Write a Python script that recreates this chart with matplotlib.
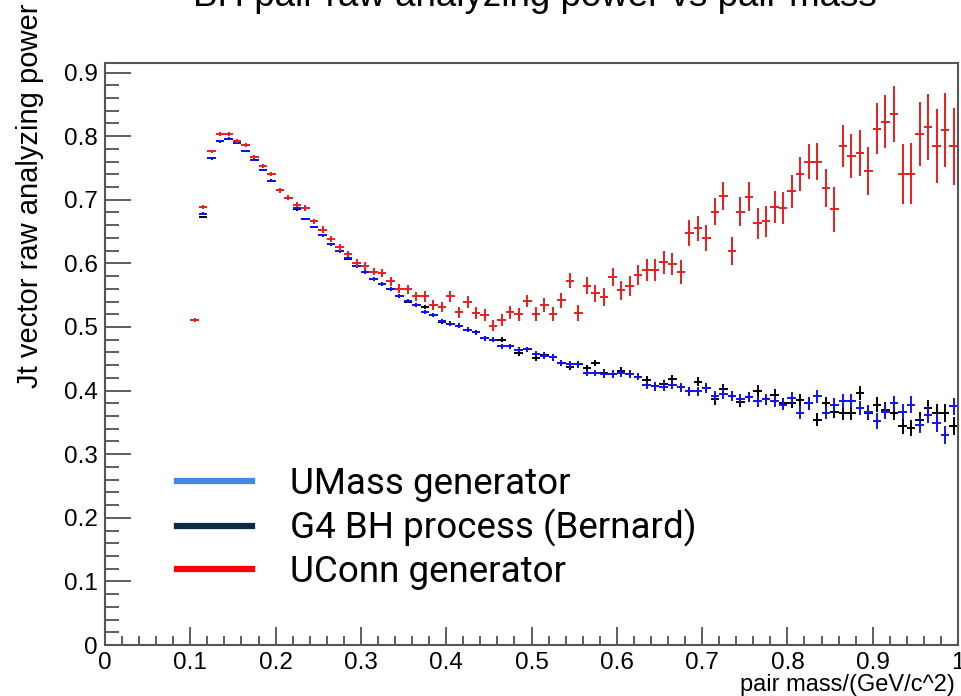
import numpy as np
import matplotlib
matplotlib.use("Agg")
import matplotlib.pyplot as plt
from matplotlib.lines import Line2D
from matplotlib.ticker import MultipleLocator, FuncFormatter

# bin centres of the pair mass histogram (0.01 GeV bins)
mass = [0.105 + 0.01 * i for i in range(90)]

# UConn generator (red)
uconn = [0.511, 0.689, 0.776, 0.804, 0.804, 0.793, 0.786, 0.767, 0.753, 0.741,
         0.715, 0.703, 0.692, 0.687, 0.666, 0.653, 0.638, 0.625, 0.615, 0.601,
         0.596, 0.587, 0.585, 0.572, 0.560, 0.559, 0.548, 0.548, 0.535, 0.531,
         0.548, 0.523, 0.539, 0.522, 0.519, 0.502, 0.511, 0.523, 0.520, 0.541,
         0.521, 0.535, 0.521, 0.542, 0.573, 0.522, 0.565, 0.553, 0.547, 0.579,
         0.558, 0.564, 0.582, 0.590, 0.590, 0.602, 0.599, 0.587, 0.648, 0.655,
         0.640, 0.681, 0.706, 0.619, 0.681, 0.705, 0.663, 0.666, 0.689, 0.687,
         0.713, 0.740, 0.760, 0.760, 0.719, 0.685, 0.784, 0.769, 0.774, 0.745,
         0.812, 0.823, 0.835, 0.741, 0.741, 0.803, 0.814, 0.784, 0.810, 0.784]
uconn_err = [0.003, 0.003, 0.003, 0.003, 0.003, 0.003, 0.003, 0.003, 0.003, 0.003,
             0.004, 0.004, 0.004, 0.004, 0.004, 0.005, 0.005, 0.005, 0.005, 0.006,
             0.006, 0.006, 0.006, 0.007, 0.007, 0.007, 0.007, 0.008, 0.008, 0.008,
             0.008, 0.009, 0.009, 0.009, 0.009, 0.009, 0.009, 0.010, 0.010, 0.010,
             0.011, 0.011, 0.011, 0.012, 0.012, 0.012, 0.013, 0.013, 0.014, 0.014,
             0.015, 0.016, 0.016, 0.017, 0.017, 0.018, 0.018, 0.019, 0.020, 0.020,
             0.021, 0.021, 0.022, 0.022, 0.023, 0.023, 0.024, 0.024, 0.025, 0.025,
             0.026, 0.027, 0.028, 0.029, 0.030, 0.035, 0.033, 0.035, 0.036, 0.038,
             0.040, 0.042, 0.044, 0.047, 0.048, 0.050, 0.052, 0.058, 0.058, 0.061]

# UMass generator (blue)
umass = [0.511, 0.678, 0.765, 0.792, 0.796, 0.789, 0.777, 0.763, 0.747, 0.730,
         0.715, 0.703, 0.687, 0.670, 0.657, 0.644, 0.630, 0.619, 0.609, 0.596,
         0.587, 0.575, 0.568, 0.560, 0.549, 0.541, 0.535, 0.524, 0.519, 0.510,
         0.505, 0.502, 0.496, 0.492, 0.482, 0.480, 0.470, 0.470, 0.464, 0.465,
         0.458, 0.455, 0.452, 0.443, 0.441, 0.441, 0.428, 0.428, 0.426, 0.426,
         0.427, 0.426, 0.422, 0.409, 0.407, 0.406, 0.409, 0.405, 0.399, 0.399,
         0.404, 0.391, 0.394, 0.392, 0.387, 0.390, 0.383, 0.386, 0.383, 0.378,
         0.388, 0.365, 0.380, 0.391, 0.365, 0.378, 0.383, 0.383, 0.372, 0.367,
         0.352, 0.367, 0.380, 0.367, 0.378, 0.346, 0.362, 0.349, 0.330, 0.375]

# G4 BH process, Bernard (black)
g4bh = [0.511, 0.673, 0.765, 0.792, 0.796, 0.789, 0.777, 0.763, 0.747, 0.730,
        0.715, 0.703, 0.685, 0.670, 0.657, 0.644, 0.630, 0.619, 0.607, 0.596,
        0.587, 0.575, 0.568, 0.560, 0.549, 0.540, 0.535, 0.531, 0.519, 0.508,
        0.505, 0.502, 0.496, 0.492, 0.482, 0.480, 0.480, 0.470, 0.459, 0.465,
        0.451, 0.456, 0.452, 0.443, 0.437, 0.441, 0.435, 0.443, 0.428, 0.426,
        0.431, 0.426, 0.422, 0.417, 0.407, 0.410, 0.418, 0.405, 0.399, 0.414,
        0.404, 0.386, 0.402, 0.392, 0.382, 0.390, 0.399, 0.386, 0.393, 0.380,
        0.381, 0.385, 0.380, 0.354, 0.380, 0.367, 0.365, 0.365, 0.396, 0.365,
        0.378, 0.370, 0.365, 0.344, 0.341, 0.354, 0.372, 0.365, 0.365, 0.344]

mc_err = [0.002, 0.002, 0.002, 0.002, 0.002, 0.002, 0.002, 0.002, 0.002, 0.002,
          0.002, 0.002, 0.002, 0.002, 0.002, 0.002, 0.002, 0.002, 0.002, 0.003,
          0.003, 0.003, 0.003, 0.003, 0.003, 0.003, 0.003, 0.003, 0.003, 0.003,
          0.004, 0.004, 0.004, 0.004, 0.004, 0.004, 0.004, 0.004, 0.004, 0.004,
          0.005, 0.005, 0.005, 0.005, 0.005, 0.005, 0.005, 0.005, 0.006, 0.006,
          0.006, 0.006, 0.006, 0.006, 0.007, 0.007, 0.007, 0.007, 0.007, 0.007,
          0.008, 0.008, 0.008, 0.008, 0.008, 0.008, 0.009, 0.009, 0.009, 0.009,
          0.009, 0.010, 0.010, 0.010, 0.010, 0.010, 0.011, 0.011, 0.011, 0.011,
          0.012, 0.012, 0.012, 0.012, 0.013, 0.013, 0.013, 0.014, 0.014, 0.014]

legend_labels = ["UMass generator", "G4 BH process (Bernard)", "UConn generator"]
legend_colors = ["#4a86e8", "#0b2a45", "#ff0000"]

plt.rcParams['font.family'] = ['Liberation Sans', 'DejaVu Sans']

fig = plt.figure(figsize=(9.61, 6.96), dpi=100)
ax = fig.add_axes([105 / 961, 1 - 645 / 696, 853 / 961, (645 - 63) / 696])

ax.errorbar(mass, g4bh, yerr=mc_err, xerr=0.005, fmt='none',
            ecolor='black', elinewidth=1.4, capsize=0)
ax.errorbar(mass, umass, yerr=mc_err, xerr=0.005, fmt='none',
            ecolor='#1010ff', elinewidth=1.4, capsize=0)
ax.errorbar(mass, uconn, yerr=uconn_err, xerr=0.005, fmt='none',
            ecolor='#ee1c1c', elinewidth=1.4, capsize=0)

ax.set_xlim(0, 1)
ax.set_ylim(0, 0.915)

ax.xaxis.set_major_locator(MultipleLocator(0.1))
ax.xaxis.set_minor_locator(MultipleLocator(0.02))
ax.yaxis.set_major_locator(MultipleLocator(0.1))
ax.yaxis.set_minor_locator(MultipleLocator(0.02))
fmt = FuncFormatter(lambda v, p: '%g' % round(v, 2))
ax.xaxis.set_major_formatter(fmt)
ax.yaxis.set_major_formatter(fmt)

ax.tick_params(axis='both', which='both', direction='in', top=False, right=False,
               width=1.1, color='#333333', labelsize=17.5)
ax.tick_params(axis='y', which='major', length=18.5, pad=5)
ax.tick_params(axis='y', which='minor', length=10)
ax.tick_params(axis='x', which='major', length=13, pad=5)
ax.tick_params(axis='x', which='minor', length=6.5)
for s in ax.spines.values():
    s.set_linewidth(1.5)
    s.set_color('#555555')

fig.text(535 / 961, 1 - 6 / 696, "BH pair raw analyzing power vs pair mass",
         ha='center', va='baseline', fontsize=26.5)
fig.text(30 / 961, 1 - 196 / 696, "Jt vector raw analyzing power",
         rotation=90, ha='center', va='center', fontsize=21)
fig.text(955 / 961, 1 - 685 / 696, "pair mass/(GeV/c^2)",
         ha='right', va='center', fontsize=17)

handles = [Line2D([], [], color=c, lw=4.5) for c in legend_colors]
ax.legend(handles, legend_labels, loc='upper left',
          bbox_to_anchor=(177 / 961, 1 - 466 / 696), bbox_transform=fig.transFigure,
          frameon=False, borderpad=0, borderaxespad=0, handlelength=2.03,
          handletextpad=1.03, labelspacing=0.19,
          prop={'family': 'Roboto', 'size': 26.5})

fig.savefig("out.png", dpi=100)
